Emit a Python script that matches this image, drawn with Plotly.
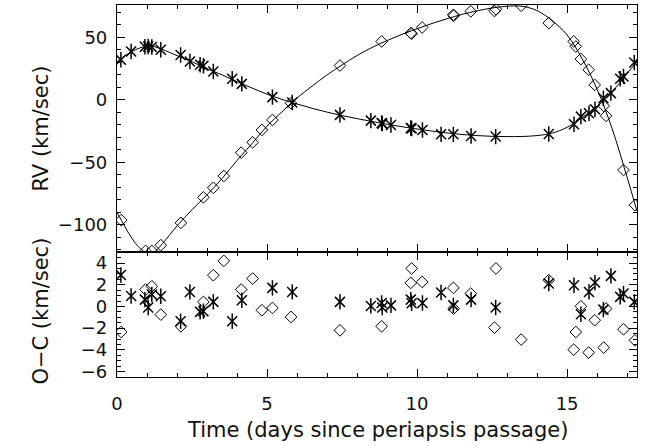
import plotly.graph_objects as go
from plotly.subplots import make_subplots

# model curves (days since periapsis, km/s)
curve_t = [0, 0.25, 0.5, 0.75, 1.0, 1.25, 1.5, 2.0, 2.5, 3.0, 3.5, 4.0, 4.5, 5.0,
           5.5, 6.0, 6.5, 7.0, 7.5, 8.0, 8.5, 9.0, 9.5, 10.0, 10.5, 11.0, 11.5,
           12.0, 12.5, 13.0, 13.5, 14.0, 14.5, 15.0, 15.5, 16.0, 16.5, 17.0, 17.33]
curve_diam = [-90, -101, -111, -118.5, -122.5, -121.5, -115.5, -101, -88, -76, -63,
              -48.5, -35, -21, -9.5, 1.5, 11, 20, 28, 35.5, 42, 47.5, 52.5, 57, 61.2,
              65, 68.5, 71.3, 73.6, 75, 75, 71.5, 63.5, 52, 33, 8.5, -23, -62, -89]
curve_star = [30.5, 35, 38.8, 41.5, 43, 42.6, 40.5, 35.5, 30.5, 25.0, 20.0, 14.6,
              9.5, 4.6, 0.4, -3.3, -6.7, -9.8, -12.6, -15, -17.3, -19.5, -21.5, -23.3,
              -25, -26.5, -27.7, -28.6, -29.2, -29.4, -29.3, -28.6, -26.6, -22, -14.2,
              -5, 6.5, 21, 31]

# diamonds
t_diam = [0.14, 0.95, 1.16, 1.46, 2.13, 2.88, 3.21, 3.56, 4.14, 4.52, 4.83, 5.18, 5.80,
          7.43, 8.82, 9.79, 9.82, 10.17, 11.21, 11.22, 11.79, 12.58, 12.63, 13.47,
          14.39, 15.22, 15.29, 15.46, 15.72, 15.92, 16.22, 16.30, 16.88, 17.26]
rv_diam = [-96.3, -121.0, -121.0, -116.4, -98.5, -78.1, -70.4, -61.0, -42.3, -34.0,
           -24.1, -16.1, -2.7, 27.5, 46.8, 53.5, 53.0, 58.0, 68.2, 67.4, 70.9, 71.2,
           72.6, 75.4, 61.5, 46.8, 42.8, 32.7, 24.1, 12.0, -4.8, -12.8, -56.2, -84.3]
oc_diam = [-2.35, 1.56, 1.86, -0.75, -1.83, 0.42, 2.88, 4.2, 1.56, 2.57, -0.35, -0.14,
           -0.97, -2.2, -1.83, 2.17, 3.5, 2.26, 1.71, -0.2, 1.19, -1.95, 3.5, -3.05,
           2.42, -3.98, -2.35, 0.02, -4.25, -1.27, -3.79, -0.2, -2.1, -3.12]

# asterisks
t_star = [0.13, 0.47, 0.93, 1.04, 1.16, 1.46, 2.12, 2.43, 2.77, 2.88, 3.21, 3.84, 4.16,
          5.18, 5.84, 7.43, 8.46, 8.82, 8.84, 9.13, 9.79, 9.82, 10.18, 10.80, 11.21,
          11.80, 12.62, 14.39, 15.23, 15.46, 15.73, 15.93, 16.21, 16.46, 16.77, 16.88,
          17.24]
rv_star = [32.1, 38.8, 42.6, 42.8, 42.3, 40.1, 35.9, 30.7, 28.1, 27.3, 22.7, 16.9, 12.8,
           2.2, -2.1, -12.0, -16.6, -18.5, -19.0, -20.1, -22.5, -22.9, -24.1, -27.6,
           -27.6, -28.9, -29.4, -27.3, -19.5, -13.4, -10.7, -7.5, 1.3, 5.4, 16.9, 18.8,
           29.9]
oc_star = [2.9, 0.97, 0.63, -0.1, 1.1, 0.94, -1.37, 1.34, -0.5, -0.44, 0.42, -1.37, 0.57,
           1.71, 1.34, 0.42, 0.05, 0.32, -0.1, 0.1, 0.63, 0.3, 0.32, 1.28, 0.1, 0.63,
           -0.1, 2.11, 1.96, -0.72, 1.34, 2.2, -0.29, 2.82, 0.88, 1.19, 0.42]

FONT = "DejaVu Sans"

fig = make_subplots(rows=2, cols=1, shared_xaxes=True, vertical_spacing=0,
                    row_heights=[0.6645, 0.3355])


def add_diamonds(x, y, row):
    fig.add_trace(go.Scatter(x=x, y=y, mode="markers",
                             marker=dict(symbol="diamond-open", size=9, color="black",
                                         line=dict(color="black", width=1))),
                  row=row, col=1)


def add_asterisks(x, y, row):
    # IDL-style asterisk: an X with a vertical bar through it
    for sym, sz in (("x-thin-open", 10), ("line-ns-open", 11)):
        fig.add_trace(go.Scatter(x=x, y=y, mode="markers",
                                 marker=dict(symbol=sym, size=sz, color="black",
                                             line=dict(color="black", width=1.5))),
                      row=row, col=1)


# top panel: curves and data
for cv in (curve_diam, curve_star):
    fig.add_trace(go.Scatter(x=curve_t, y=cv, mode="lines",
                             line=dict(color="black", width=1, shape="spline")),
                  row=1, col=1)
add_diamonds(t_diam, rv_diam, 1)
add_asterisks(t_star, rv_star, 1)

# bottom panel: residuals
add_diamonds(t_diam, oc_diam, 2)
add_asterisks(t_star, oc_star, 2)

axis_style = dict(showline=True, linecolor="black", linewidth=1.2, mirror="allticks",
                  ticks="inside", tickcolor="black", ticklen=8, showgrid=False,
                  zeroline=False, automargin=False,
                  tickfont=dict(family=FONT, size=18, color="#111"))

fig.update_xaxes(range=[0, 17.33], tick0=0, dtick=5,
                 minor=dict(ticks="inside", dtick=1, ticklen=4, tickcolor="black"),
                 **axis_style)
fig.update_xaxes(showticklabels=False, row=1, col=1)
fig.update_xaxes(showticklabels=True, ticklabelstandoff=10, row=2, col=1)

fig.update_yaxes(range=[-122, 76], tick0=0, dtick=50, ticklabelstandoff=5,
                 minor=dict(ticks="inside", dtick=10, ticklen=4, tickcolor="black"),
                 row=1, col=1, **axis_style)
fig.update_yaxes(range=[-6.5, 5], tick0=0, dtick=2, ticklabelstandoff=5,
                 minor=dict(ticks="inside", dtick=0.5, ticklen=4, tickcolor="black"),
                 row=2, col=1, **axis_style)

title_font = dict(family=FONT, size=21, color="#111")
fig.add_annotation(text="RV (km/sec)", xref="paper", yref="y domain", x=0, y=0.5,
                   xshift=-90, textangle=-90, showarrow=False, font=title_font)
fig.add_annotation(text="O−C (km/sec)", xref="paper", yref="y2 domain", x=0, y=0.5,
                   xshift=-90, yshift=3, textangle=-90, showarrow=False, font=title_font)
fig.add_annotation(text="Time (days since periapsis passage)", xref="paper",
                   yref="paper", x=0.5, y=0, yanchor="middle", yshift=-53,
                   showarrow=False, font=title_font)

fig.update_layout(width=659, height=446, showlegend=False,
                  paper_bgcolor="white", plot_bgcolor="white",
                  margin=dict(l=117, r=22, t=5, b=69))

fig.write_html("out.html", config={"displayModeBar": False},
               post_script="document.body.style.margin='0';"
                           "document.body.style.overflow='hidden';")
